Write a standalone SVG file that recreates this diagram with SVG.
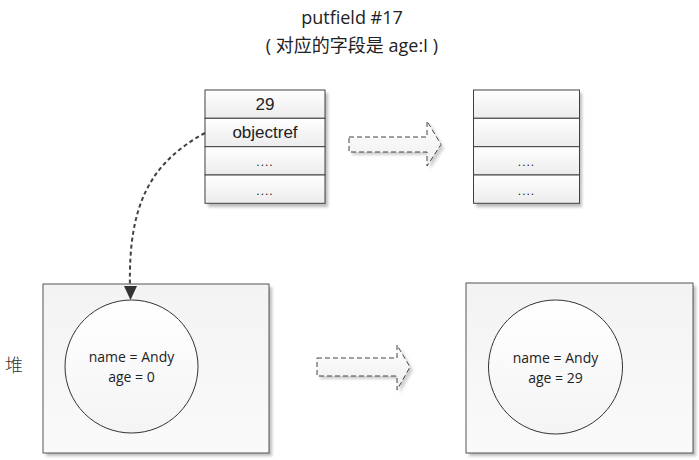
<svg xmlns="http://www.w3.org/2000/svg" width="699" height="460" viewBox="0 0 699 460">
<style>
.t{font-family:"Liberation Sans",Arial,sans-serif;fill:#222;text-anchor:middle}
.c{font-family:"Open Sans","Liberation Sans","Noto Sans CJK SC",sans-serif;fill:#222;text-anchor:middle}
.cell{fill:url(#cellg);stroke:#404040;stroke-width:1}
.heap{fill:url(#heapg);stroke:#555;stroke-width:1}
.obj{fill:url(#circg);stroke:#333;stroke-width:1}
.shadow{fill:#bdbdbd;filter:url(#blur)}
.bigarrow{fill:url(#arrg);stroke:#444;stroke-width:1;stroke-dasharray:5,3}
.conn{fill:none;stroke:#404040;stroke-width:2;stroke-dasharray:4,3}
</style>
<defs>
<linearGradient id="cellg" x1="0" y1="0" x2="0" y2="1"><stop offset="0" stop-color="#ffffff"/><stop offset="1" stop-color="#ececec"/></linearGradient>
<linearGradient id="heapg" x1="0" y1="0" x2="0" y2="1"><stop offset="0" stop-color="#f3f3f3"/><stop offset="1" stop-color="#fafafa"/></linearGradient>
<linearGradient id="circg" x1="0" y1="0" x2="0" y2="1"><stop offset="0" stop-color="#ffffff"/><stop offset="1" stop-color="#f4f4f4"/></linearGradient>
<linearGradient id="arrg" x1="0" y1="0" x2="0" y2="1"><stop offset="0" stop-color="#ffffff"/><stop offset="1" stop-color="#ededed"/></linearGradient>
<filter id="blur" x="-10%" y="-10%" width="120%" height="120%"><feGaussianBlur stdDeviation="1.5"/></filter>
</defs>
<rect width="699" height="460" fill="#fff"/>

<g id="title">
<text class="c" x="352" y="24" font-size="18">putfield  #17</text>
<text class="c" x="352" y="52" font-size="18">( 对应的字段是 age:I )</text>
</g>

<g id="stack-before">
<rect class="shadow" x="208" y="93" width="120" height="114"/>
<rect class="cell" x="205" y="90" width="120" height="28.3"/>
<rect class="cell" x="205" y="118.3" width="120" height="28.4"/>
<rect class="cell" x="205" y="146.7" width="120" height="28.3"/>
<rect class="cell" x="205" y="175" width="120" height="28.3"/>
<text class="t" x="265" y="110" font-size="17">29</text>
<text class="t" x="265" y="138" font-size="17">objectref</text>
<text class="t" x="265" y="166" font-size="12" letter-spacing="1">....</text>
<text class="t" x="265" y="195" font-size="12" letter-spacing="1">....</text>
</g>

<g id="stack-after">
<rect class="shadow" x="476" y="93" width="106" height="114"/>
<rect class="cell" x="473.5" y="90" width="106" height="28.3"/>
<rect class="cell" x="473.5" y="118.3" width="106" height="28.4"/>
<rect class="cell" x="473.5" y="146.7" width="106" height="28.3"/>
<rect class="cell" x="473.5" y="175" width="106" height="28.3"/>
<text class="t" x="526.5" y="166" font-size="12" letter-spacing="1">....</text>
<text class="t" x="526.5" y="195" font-size="12" letter-spacing="1">....</text>
</g>

<g id="arrow-top">
<path d="M352,140 L430,140 L430,124 L444,148 L430,169 L430,155 L352,155 Z" fill="#cfcfcf" filter="url(#blur)"/>
<path class="bigarrow" d="M349,137 L427,137 L427,121 L441,144.5 L427,166 L427,152 L349,152 Z"/>
</g>

<g id="heap-label">
<text x="14" y="372" font-size="18" text-anchor="middle" fill="#333" font-family="'Noto Sans CJK SC','Noto Sans CJK JP',sans-serif" font-weight="300">堆</text>
</g>

<g id="heap-before">
<rect class="shadow" x="46" y="287" width="226" height="169"/>
<rect class="heap" x="43" y="284" width="226" height="169"/>
<circle class="obj" cx="131.5" cy="366.5" r="66.5"/>
<text class="c" x="131.5" y="362" font-size="14">name = Andy</text>
<text class="c" x="131.5" y="382" font-size="14">age = 0</text>
</g>

<g id="arrow-bottom">
<path d="M320,361 L400,361 L400,348 L413,370 L400,393 L400,379 L320,379 Z" fill="#cfcfcf" filter="url(#blur)"/>
<path class="bigarrow" d="M317,358 L397,358 L397,345 L410,367 L397,390 L397,376 L317,376 Z"/>
</g>

<g id="heap-after">
<rect class="shadow" x="469" y="286" width="227" height="170"/>
<rect class="heap" x="466" y="283" width="227" height="170"/>
<circle class="obj" cx="555.5" cy="367" r="67"/>
<text class="c" x="555.5" y="363" font-size="14">name = Andy</text>
<text class="c" x="555.5" y="383" font-size="14">age = 29</text>
</g>

<g id="connectors">
<path class="conn" d="M205,133 C150,163 128,205 130,288"/>
<path d="M124,286 L137,286 L130.5,300 Z" fill="#333"/>
</g>
</svg>
